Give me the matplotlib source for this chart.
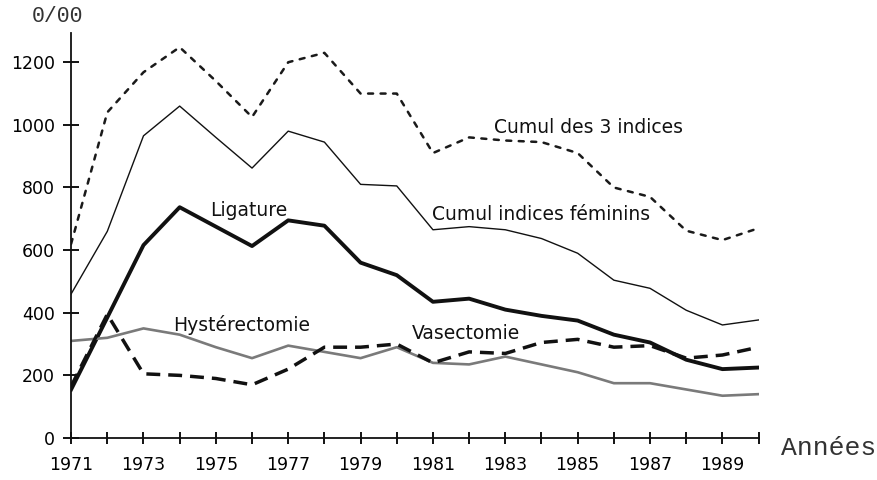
import numpy as np
import matplotlib
matplotlib.use("Agg")
import matplotlib.pyplot as plt

# ── Data (per 1000 women) ─────────────────────────────────────────────
years = list(range(1971, 1991))

cumul_3 = [620, 1040, 1168, 1248, 1140, 1025, 1200, 1230, 1100, 1100,
           910, 960, 950, 945, 910, 800, 770, 662, 632, 670]
cumul_fem = [460, 660, 965, 1060, 960, 862, 980, 945, 810, 805,
             665, 675, 665, 637, 590, 504, 478, 408, 361, 377]
ligature = [155, 385, 616, 737, 675, 613, 695, 678, 560, 520,
            435, 445, 410, 390, 375, 330, 305, 250, 220, 225]
hysterectomie = [310, 320, 350, 330, 290, 255, 295, 275, 255, 290,
                 240, 235, 260, 235, 210, 175, 175, 155, 135, 140]
vasectomie = [165, 395, 205, 200, 190, 170, 220, 290, 290, 300,
              240, 275, 270, 305, 315, 290, 295, 255, 265, 290]

year_labels = list(range(1971, 1990, 2))
y_ticks = [0, 200, 400, 600, 800, 1000, 1200]

# ── Figure ────────────────────────────────────────────────────────────
fig = plt.figure(figsize=(8.78, 4.8), dpi=100)
ax = fig.add_axes([0.081, 0.0875, 0.783, 0.8435])

ax.plot(years, cumul_3, color="#1a1a1a", linewidth=1.8, dashes=(2, 3),
        dash_capstyle="round")
ax.plot(years, cumul_fem, color="#111111", linewidth=1.0)
ax.plot(years, ligature, color="#111111", linewidth=2.8)
ax.plot(years, hysterectomie, color="#7a7a7a", linewidth=1.9)
ax.plot(years, vasectomie, color="#111111", linewidth=2.5, dashes=(4, 2.3))

# ── Series labels ─────────────────────────────────────────────────────
lab = dict(fontsize=13.5, color="#111111", ha="center", va="center")
ax.text(1985.3, 993, "Cumul des 3 indices", **lab)
ax.text(1984.0, 715, "Cumul indices féminins", **lab)
ax.text(1975.9, 728, "Ligature", **lab)
ax.text(1975.7, 361, "Hystérectomie", **lab)
ax.text(1981.9, 335, "Vasectomie", **lab)

# ── Axes styling ──────────────────────────────────────────────────────
ax.set_xlim(1971, 1990)
ax.set_ylim(0, 1293)
for side in ("top", "right"):
    ax.spines[side].set_visible(False)
for side in ("left", "bottom"):
    ax.spines[side].set_linewidth(1.3)
    ax.spines[side].set_color("#111111")

ax.set_xticks(years)
ax.set_xticklabels([str(y) if y in year_labels else "" for y in years])
ax.set_yticks(y_ticks)
ax.tick_params(axis="x", direction="inout", length=8, width=1.3, labelsize=12.5, pad=9)
ax.tick_params(axis="y", direction="inout", length=11, width=1.3, labelsize=12.5, pad=6)

ax.text(-0.02, 1.042, "0/00", transform=ax.transAxes, fontsize=15.5,
        family="Liberation Mono", ha="center", va="center", color="#333333")
ax.text(1.033, -0.025, "Années", transform=ax.transAxes, fontsize=19,
        family="Liberation Mono", ha="left", va="center", color="#333333")

fig.savefig("out.png", dpi=100)
